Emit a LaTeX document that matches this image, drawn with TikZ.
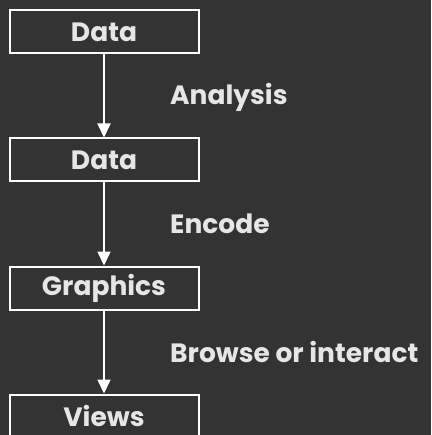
\documentclass[tikz,border=0pt]{standalone}
\usepackage{fontspec}
\setmainfont{Poppins}
\usetikzlibrary{arrows.meta}
\definecolor{bgdark}{HTML}{333333}
\definecolor{txtgray}{HTML}{E6E6E6}
\tikzset{
  stage/.style={draw=white,line width=2pt,minimum width=189pt,minimum height=43pt,
    text=txtgray,font=\bfseries\fontsize{26.5}{28}\selectfont,inner sep=0pt},
  verb/.style={anchor=west,text=txtgray,font=\bfseries\fontsize{26.5}{28}\selectfont,inner sep=0pt},
  flow/.style={white,line width=2pt,-{Triangle[width=13pt,length=14pt]}}
}
\begin{document}
\begin{tikzpicture}[x=1pt,y=-1pt]
    \fill[bgdark] (0,0) rectangle (431,435);
    \useasboundingbox (0,0) rectangle (431,435);
    \node[stage] (raw) at (104,32) {Data};
    \node[stage] (data) at (104,160) {Data};
    \node[stage] (gfx) at (104,288) {Graphics};
    \node[stage] (views) at (104,416) {Views};
    \draw[flow] (raw) -- (data);
    \draw[flow] (data) -- (gfx);
    \draw[flow] (gfx) -- (views);
    \node[verb] (ana) at (170,97) {Analysis};
    \node[verb] (enc) at (170,224) {Encode};
    \node[verb] (brw) at (170,352) {Browse or interact};
\end{tikzpicture}
\end{document}
